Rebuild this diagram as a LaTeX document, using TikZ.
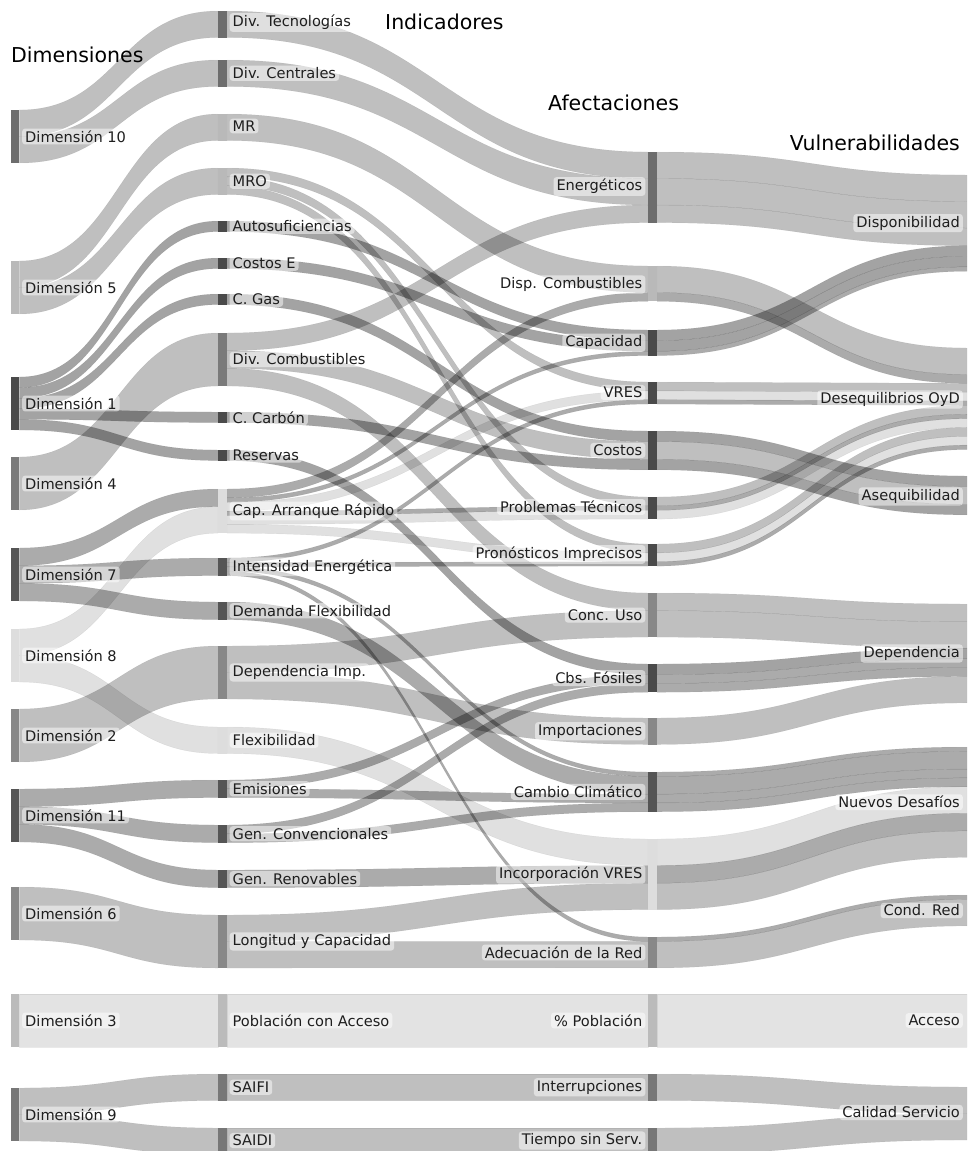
\documentclass[tikz,border=0pt]{standalone}
\usepackage{fontspec}
\setmainfont{DejaVu Sans}
\definecolor{nA}{HTML}{6D6D6D}
\definecolor{nB}{HTML}{B9B9B9}
\definecolor{nC}{HTML}{4A4A4A}
\definecolor{nD}{HTML}{7A7A7A}
\definecolor{nE}{HTML}{555555}
\definecolor{nF}{HTML}{DDDDDD}
\definecolor{nG}{HTML}{888888}
\definecolor{nH}{HTML}{BBBBBB}
\definecolor{nI}{HTML}{777777}
\definecolor{txt}{HTML}{1E1E1E}
\newcommand{\bandgen}[7]{%
  \pgfmathsetmacro\bxm{(#1+#3)/2}%
  \pgfmathsetmacro\byb{#2+#5}%
  \pgfmathsetmacro\byc{#4+#5}%
  \filldraw[#6] (#1,#2) .. controls (\bxm,#2) and (\bxm,#4) .. (#3,#4) -- (#3,\byc) .. controls (\bxm,\byc) and (\bxm,\byb) .. (#1,\byb) -- cycle;}
\newcommand{\bandA}[4]{\bandgen{19.25}{#1}{218}{#2}{#3}{#4}{}}
\newcommand{\bandB}[4]{\bandgen{227}{#1}{648}{#2}{#3}{#4}{}}
\newcommand{\bandC}[4]{\bandgen{657}{#1}{967}{#2}{#3}{#4}{}}
\tikzset{
  lk/.style={fill=black, draw=black, draw opacity=0.07, line width=0.4pt},
  lkL/.style={lk, fill opacity=0.25},
  lkD/.style={lk, fill opacity=0.36},
  lkM/.style={lk, fill opacity=0.33},
  lkV/.style={lk, fill opacity=0.12},
  lkW/.style={lk, fill opacity=0.11},
  nbar/.style={inner sep=0pt, minimum width=9pt, draw=none},
  lbl/.style={font=\fontsize{14.6}{17}\selectfont, text=txt, fill=white, fill opacity=0.5, text opacity=1, rounded corners=3pt, inner xsep=3pt, inner ysep=2pt},
  hdr/.style={font=\fontsize{20.5}{24}\selectfont, text=black, inner sep=0pt}
}
\begin{document}
\begin{tikzpicture}[x=1pt,y=-1pt]
\useasboundingbox (0,0) rectangle (967,1151);
\begin{scope}
\clip (0,0) rectangle (967,1151);
% ---- dimensions -> indicators
\bandA{110}{11}{26.5}{lkL}
\bandA{136.5}{60}{26.5}{lkL}
\bandA{261}{114}{26.5}{lkL}
\bandA{287.5}{168}{26.5}{lkL}
\bandA{377}{221}{10.6}{lkD}
\bandA{387.6}{258}{10.6}{lkD}
\bandA{398.2}{294}{10.6}{lkD}
\bandA{408.8}{412}{10.6}{lkD}
\bandA{419.4}{450}{10.6}{lkD}
\bandA{457}{333}{53}{lkL}
\bandA{548}{489}{17.67}{lkM}
\bandA{565.67}{558}{17.67}{lkM}
\bandA{583.33}{602}{17.67}{lkM}
\bandA{629}{506.67}{26.5}{lkV}
\bandA{655.5}{727}{26.5}{lkV}
\bandA{709}{646}{53}{lkL}
\bandA{789}{780}{17.67}{lkM}
\bandA{806.67}{825}{17.67}{lkM}
\bandA{824.33}{870}{17.67}{lkM}
\bandA{887}{915}{53}{lkL}
\bandA{994}{994}{53}{lkW}
\bandA{1088}{1074}{26.5}{lkL}
\bandA{1114.5}{1128}{26.5}{lkL}
% ---- indicators -> afectaciones
\bandB{11}{152}{26.5}{lkL}
\bandB{60}{178.5}{26.5}{lkL}
\bandB{114}{266}{26.5}{lkL}
\bandB{168}{382}{8.83}{lkL}
\bandB{176.83}{497}{8.83}{lkL}
\bandB{185.67}{544}{8.83}{lkL}
\bandB{221}{330}{10.6}{lkD}
\bandB{258}{340.6}{10.6}{lkD}
\bandB{294}{431}{10.6}{lkD}
\bandB{333}{205}{17.67}{lkL}
\bandB{350.67}{441.6}{17.67}{lkL}
\bandB{368.33}{593}{17.67}{lkL}
\bandB{412}{459.27}{10.6}{lkD}
\bandB{450}{664}{10.6}{lkD}
\bandB{489}{292.5}{8.83}{lkM}
\bandB{497.83}{351.2}{4.42}{lkM}
\bandB{502.25}{390.83}{8.83}{lkV}
\bandB{511.08}{505.83}{4.42}{lkM}
\bandB{515.5}{510.25}{8.83}{lkV}
\bandB{524.33}{552.83}{8.83}{lkV}
\bandB{558}{399.66}{4.42}{lkM}
\bandB{562.42}{561.66}{4.42}{lkM}
\bandB{566.83}{772}{4.42}{lkM}
\bandB{571.25}{937}{4.42}{lkM}
\bandB{602}{776.42}{17.67}{lkM}
\bandB{646}{610.67}{26.5}{lkL}
\bandB{672.5}{718}{26.5}{lkL}
\bandB{727}{839}{26.5}{lkV}
\bandB{780}{674.6}{8.83}{lkM}
\bandB{788.83}{794.09}{8.83}{lkM}
\bandB{825}{683.43}{8.83}{lkM}
\bandB{833.83}{802.92}{8.83}{lkM}
\bandB{870}{865.5}{17.67}{lkM}
\bandB{915}{883.17}{26.5}{lkL}
\bandB{941.5}{941.42}{26.5}{lkL}
\bandB{994}{994}{53}{lkW}
\bandB{1074}{1074}{26.5}{lkL}
\bandB{1128}{1128}{26.5}{lkL}
% ---- afectaciones -> vulnerabilidades
\bandC{152}{175}{26.5}{lkL}
\bandC{178.5}{201.5}{26.5}{lkL}
\bandC{205}{228}{17.67}{lkL}
\bandC{330}{245.67}{10.6}{lkD}
\bandC{340.6}{256.27}{10.6}{lkD}
\bandC{351.2}{266.87}{4.42}{lkM}
\bandC{266}{348}{26.5}{lkL}
\bandC{292.5}{374.5}{8.83}{lkM}
\bandC{382}{383.33}{8.83}{lkL}
\bandC{390.83}{392.16}{8.83}{lkV}
\bandC{399.66}{400.99}{4.42}{lkM}
\bandC{497}{405.41}{8.83}{lkL}
\bandC{505.83}{414.24}{4.42}{lkM}
\bandC{510.25}{418.66}{8.83}{lkV}
\bandC{544}{427.49}{8.83}{lkL}
\bandC{552.83}{436.32}{8.83}{lkV}
\bandC{561.66}{445.15}{4.42}{lkM}
\bandC{431}{476}{10.6}{lkD}
\bandC{441.6}{486.6}{17.67}{lkL}
\bandC{459.27}{504.27}{10.6}{lkD}
\bandC{593}{604}{17.67}{lkL}
\bandC{610.67}{621.67}{26.5}{lkL}
\bandC{664}{648.17}{10.6}{lkD}
\bandC{674.6}{658.77}{8.83}{lkM}
\bandC{683.43}{667.6}{8.83}{lkM}
\bandC{718}{676.43}{26.5}{lkL}
\bandC{772}{747}{4.42}{lkM}
\bandC{776.42}{751.42}{17.67}{lkM}
\bandC{794.09}{769.09}{8.83}{lkM}
\bandC{802.92}{777.92}{8.83}{lkM}
\bandC{839}{786.75}{26.5}{lkV}
\bandC{865.5}{813.25}{17.67}{lkM}
\bandC{883.17}{830.92}{26.5}{lkL}
\bandC{937}{895}{4.42}{lkM}
\bandC{941.42}{899.42}{26.5}{lkL}
\bandC{994}{994}{53}{lkW}
\bandC{1074}{1087}{26.5}{lkL}
\bandC{1128}{1113.5}{26.5}{lkL}
% ---- node bars
\node[nbar, minimum width=8.5pt, fill=nA, minimum height=53pt] (d10) at (15,136.5) {};
\node[nbar, minimum width=8.5pt, fill=nB, minimum height=53pt] (d5) at (15,287.5) {};
\node[nbar, minimum width=8.5pt, fill=nC, minimum height=53pt] (d1) at (15,403.5) {};
\node[nbar, minimum width=8.5pt, fill=nD, minimum height=53pt] (d4) at (15,483.5) {};
\node[nbar, minimum width=8.5pt, fill=nE, minimum height=53pt] (d7) at (15,574.5) {};
\node[nbar, minimum width=8.5pt, fill=nF, minimum height=53pt] (d8) at (15,655.5) {};
\node[nbar, minimum width=8.5pt, fill=nG, minimum height=53pt] (d2) at (15,735.5) {};
\node[nbar, minimum width=8.5pt, fill=nE, minimum height=53pt] (d11) at (15,815.5) {};
\node[nbar, minimum width=8.5pt, fill=nG, minimum height=53pt] (d6) at (15,913.5) {};
\node[nbar, minimum width=8.5pt, fill=nH, minimum height=53pt] (d3) at (15,1020.5) {};
\node[nbar, minimum width=8.5pt, fill=nI, minimum height=53pt] (d9) at (15,1114.5) {};
\node[nbar, fill=nA, minimum height=26.5pt] (i1) at (222.5,24.25) {};
\node[nbar, fill=nA, minimum height=26.5pt] (i2) at (222.5,73.25) {};
\node[nbar, fill=nB, minimum height=26.5pt] (i3) at (222.5,127.25) {};
\node[nbar, fill=nB, minimum height=26.5pt] (i4) at (222.5,181.25) {};
\node[nbar, fill=nC, minimum height=10.6pt] (i5) at (222.5,226.3) {};
\node[nbar, fill=nC, minimum height=10.6pt] (i6) at (222.5,263.3) {};
\node[nbar, fill=nC, minimum height=10.6pt] (i7) at (222.5,299.3) {};
\node[nbar, fill=nD, minimum height=53pt] (i8) at (222.5,359.5) {};
\node[nbar, fill=nC, minimum height=10.6pt] (i9) at (222.5,417.3) {};
\node[nbar, fill=nC, minimum height=10.6pt] (i10) at (222.5,455.3) {};
\node[nbar, fill=nF, minimum height=44.17pt] (i11) at (222.5,511.08) {};
\node[nbar, fill=nE, minimum height=17.67pt] (i12) at (222.5,566.83) {};
\node[nbar, fill=nE, minimum height=17.67pt] (i13) at (222.5,610.83) {};
\node[nbar, fill=nG, minimum height=53pt] (i14) at (222.5,672.5) {};
\node[nbar, fill=nF, minimum height=26.5pt] (i15) at (222.5,740.25) {};
\node[nbar, fill=nE, minimum height=17.67pt] (i16) at (222.5,788.83) {};
\node[nbar, fill=nE, minimum height=17.67pt] (i17) at (222.5,833.83) {};
\node[nbar, fill=nE, minimum height=17.67pt] (i18) at (222.5,878.83) {};
\node[nbar, fill=nG, minimum height=53pt] (i19) at (222.5,941.5) {};
\node[nbar, fill=nH, minimum height=53pt] (i20) at (222.5,1020.5) {};
\node[nbar, fill=nI, minimum height=26.5pt] (i21) at (222.5,1087.25) {};
\node[nbar, fill=nI, minimum height=26.5pt] (i22) at (222.5,1141.25) {};
\node[nbar, fill=nA, minimum height=70.67pt] (a1) at (652.5,187.33) {};
\node[nbar, fill=nB, minimum height=35.33pt] (a2) at (652.5,283.67) {};
\node[nbar, fill=nC, minimum height=25.62pt] (a3) at (652.5,342.81) {};
\node[nbar, fill=nC, minimum height=22.08pt] (a4) at (652.5,393.04) {};
\node[nbar, fill=nC, minimum height=38.87pt] (a5) at (652.5,450.43) {};
\node[nbar, fill=nC, minimum height=22.08pt] (a6) at (652.5,508.04) {};
\node[nbar, fill=nC, minimum height=22.08pt] (a7) at (652.5,555.04) {};
\node[nbar, fill=nG, minimum height=44.17pt] (a8) at (652.5,615.08) {};
\node[nbar, fill=nC, minimum height=28.27pt] (a9) at (652.5,678.13) {};
\node[nbar, fill=nG, minimum height=26.5pt] (a10) at (652.5,731.25) {};
\node[nbar, fill=nE, minimum height=39.75pt] (a11) at (652.5,791.88) {};
\node[nbar, fill=nF, minimum height=70.67pt] (a12) at (652.5,874.33) {};
\node[nbar, fill=nG, minimum height=30.92pt] (a13) at (652.5,952.46) {};
\node[nbar, fill=nH, minimum height=53pt] (a14) at (652.5,1020.5) {};
\node[nbar, fill=nI, minimum height=26.5pt] (a15) at (652.5,1087.25) {};
\node[nbar, fill=nI, minimum height=26.5pt] (a16) at (652.5,1141.25) {};
\end{scope}
% ---- labels
\node[lbl, anchor=west] (d10l) at (22,136.5) {Dimensión 10};
\node[lbl, anchor=west] (d5l) at (22,287.5) {Dimensión 5};
\node[lbl, anchor=west] (d1l) at (22,403.5) {Dimensión 1};
\node[lbl, anchor=west] (d4l) at (22,483.5) {Dimensión 4};
\node[lbl, anchor=west] (d7l) at (22,574.5) {Dimensión 7};
\node[lbl, anchor=west] (d8l) at (22,655.5) {Dimensión 8};
\node[lbl, anchor=west] (d2l) at (22,735.5) {Dimensión 2};
\node[lbl, anchor=west] (d11l) at (22,815.5) {Dimensión 11};
\node[lbl, anchor=west] (d6l) at (22,913.5) {Dimensión 6};
\node[lbl, anchor=west] (d3l) at (22,1020.5) {Dimensión 3};
\node[lbl, anchor=west] (d9l) at (22,1114.5) {Dimensión 9};
\node[lbl, anchor=west] (i1l) at (229.5,22.5) {Div. Tecnologías};
\node[lbl, anchor=west] (i2l) at (229.5,73.25) {Div. Centrales};
\node[lbl, anchor=west] (i3l) at (229.5,126) {MR};
\node[lbl, anchor=west] (i4l) at (229.5,181.25) {MRO};
\node[lbl, anchor=west] (i5l) at (229.5,226.3) {Autosuficiencias};
\node[lbl, anchor=west] (i6l) at (229.5,263.3) {Costos E};
\node[lbl, anchor=west] (i7l) at (229.5,299.3) {C. Gas};
\node[lbl, anchor=west] (i8l) at (229.5,359.5) {Div. Combustibles};
\node[lbl, anchor=west] (i9l) at (229.5,417.3) {C. Carbón};
\node[lbl, anchor=west] (i10l) at (229.5,455.3) {Reservas};
\node[lbl, anchor=west] (i11l) at (229.5,511.08) {Cap. Arranque Rápido};
\node[lbl, anchor=west] (i12l) at (229.5,566.83) {Intensidad Energética};
\node[lbl, anchor=west] (i13l) at (229.5,610.83) {Demanda Flexibilidad};
\node[lbl, anchor=west] (i14l) at (229.5,672.5) {Dependencia Imp.};
\node[lbl, anchor=west] (i15l) at (229.5,740.25) {Flexibilidad};
\node[lbl, anchor=west] (i16l) at (229.5,788.83) {Emisiones};
\node[lbl, anchor=west] (i17l) at (229.5,833.83) {Gen. Convencionales};
\node[lbl, anchor=west] (i18l) at (229.5,878.83) {Gen. Renovables};
\node[lbl, anchor=west] (i19l) at (229.5,941.5) {Longitud y Capacidad};
\node[lbl, anchor=west] (i20l) at (229.5,1020.5) {Población con Acceso};
\node[lbl, anchor=west] (i21l) at (229.5,1087.25) {SAIFI};
\node[lbl, anchor=west] (i22l) at (229.5,1140.5) {SAIDI};
\node[lbl, anchor=east] (a1l) at (645.5,186.5) {Energéticos};
\node[lbl, anchor=east] (a2l) at (645.5,284.5) {Disp. Combustibles};
\node[lbl, anchor=east] (a3l) at (645.5,342.8) {Capacidad};
\node[lbl, anchor=east] (a4l) at (645.5,392.5) {VRES};
\node[lbl, anchor=east] (a5l) at (645.5,450.43) {Costos};
\node[lbl, anchor=east] (a6l) at (645.5,507) {Problemas Técnicos};
\node[lbl, anchor=east] (a7l) at (645.5,554.5) {Pronósticos Imprecisos};
\node[lbl, anchor=east] (a8l) at (645.5,615.08) {Conc. Uso};
\node[lbl, anchor=east] (a9l) at (645.5,678.13) {Cbs. Fósiles};
\node[lbl, anchor=east] (a10l) at (645.5,731.25) {Importaciones};
\node[lbl, anchor=east] (a11l) at (645.5,791.88) {Cambio Climático};
\node[lbl, anchor=east] (a12l) at (645.5,874.33) {Incorporación VRES};
\node[lbl, anchor=east] (a13l) at (645.5,952.46) {Adecuación de la Red};
\node[lbl, anchor=east] (a14l) at (645.5,1020.5) {\% Población};
\node[lbl, anchor=east] (a15l) at (645.5,1087.25) {Interrupciones};
\node[lbl, anchor=east] (a16l) at (645.5,1140.5) {Tiempo sin Serv.};
\node[lbl, anchor=east] (v1l) at (963,223.1) {Disponibilidad};
\node[lbl, anchor=east] (v2l) at (963,399.5) {Desequilibrios OyD};
\node[lbl, anchor=east] (v3l) at (963,496.5) {Asequibilidad};
\node[lbl, anchor=east] (v4l) at (963,653.5) {Dependencia};
\node[lbl, anchor=east] (v5l) at (963,802.2) {Nuevos Desafíos};
\node[lbl, anchor=east] (v6l) at (963,910.5) {Cond. Red};
\node[lbl, anchor=east] (v7l) at (963,1020.5) {Acceso};
\node[lbl, anchor=east] (v8l) at (963,1112.5) {Calidad Servicio};
% ---- column headers
\node[hdr, anchor=base west] (h1) at (11,62) {Dimensiones};
\node[hdr, anchor=base west] (h2) at (385,29) {Indicadores};
\node[hdr, anchor=base west] (h3) at (548,110) {Afectaciones};
\node[hdr, anchor=base east] (h4) at (960,150) {Vulnerabilidades};
\end{tikzpicture}
\end{document}
